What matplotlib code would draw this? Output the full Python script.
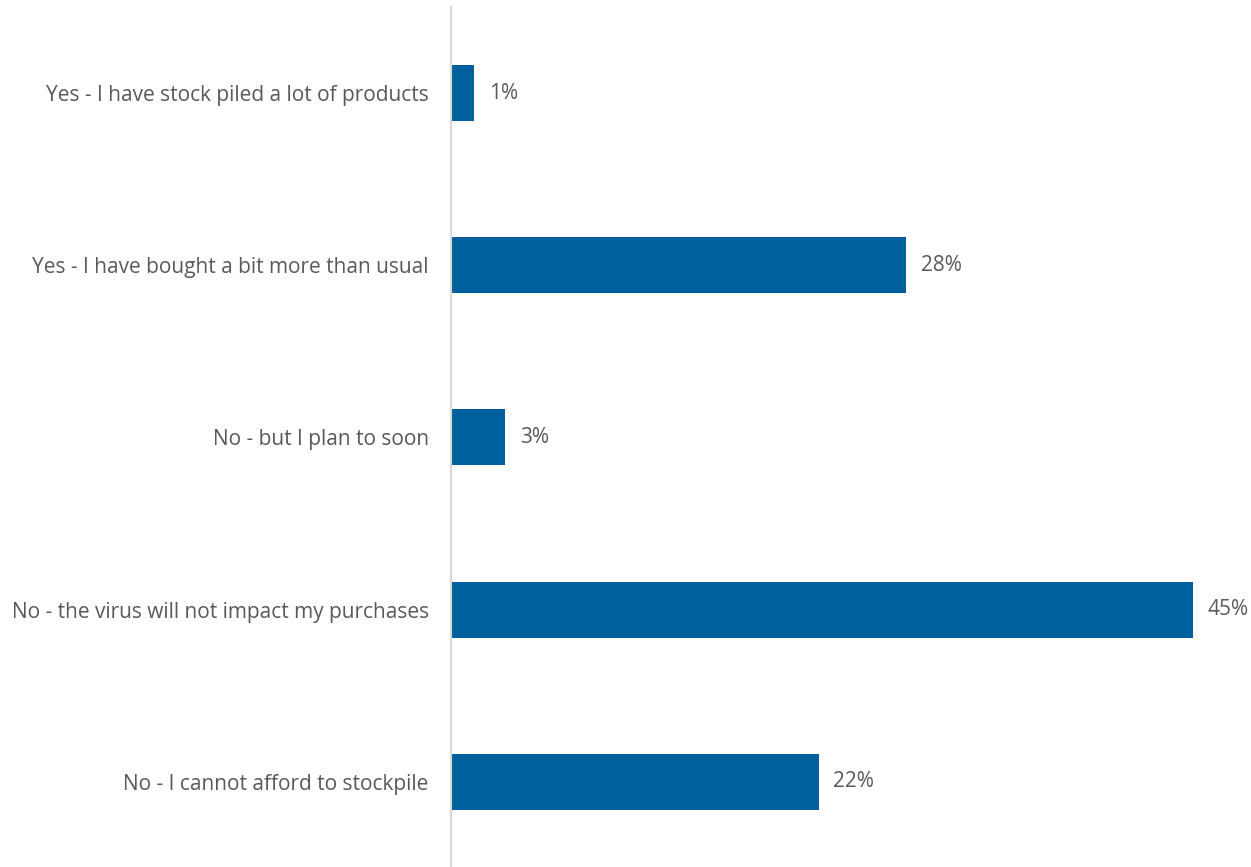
import matplotlib.pyplot as plt
import numpy as np

plt.rcParams['font.family'] = ['Open Sans', 'DejaVu Sans']

categories = [
    "Yes - I have stock piled a lot of products",
    "Yes - I have bought a bit more than usual",
    "No - but I plan to soon",
    "No - the virus will not impact my purchases",
    "No - I cannot afford to stockpile",
]
values = [1.4, 27.6, 3.3, 45.0, 22.3]
labels = ["1%", "28%", "3%", "45%", "22%"]

bar_color = "#00609e"
text_color = "#595959"

fig = plt.figure(figsize=(12.51, 8.67), dpi=100)
ax = fig.add_axes([0.3605, -0.001, 0.606, 0.993])

y = np.arange(len(categories))
ax.barh(y, values, height=0.325, color=bar_color)

for yi, v, lab in zip(y, values, labels):
    ax.text(v + 0.9, yi, lab, va="center", ha="left", fontsize=15, color=text_color)

ax.set_ylim(len(categories) - 0.5, -0.5)
ax.set_xlim(0, 46)
ax.set_yticks(y)
ax.set_yticklabels(categories, fontsize=15, color=text_color)
ax.tick_params(axis="y", length=0, pad=16)
ax.set_xticks([])

for s in ["top", "right", "bottom"]:
    ax.spines[s].set_visible(False)
ax.spines["left"].set_color("#d9d9d9")
ax.spines["left"].set_linewidth(1.5)

fig.savefig("out.png", dpi=100)
